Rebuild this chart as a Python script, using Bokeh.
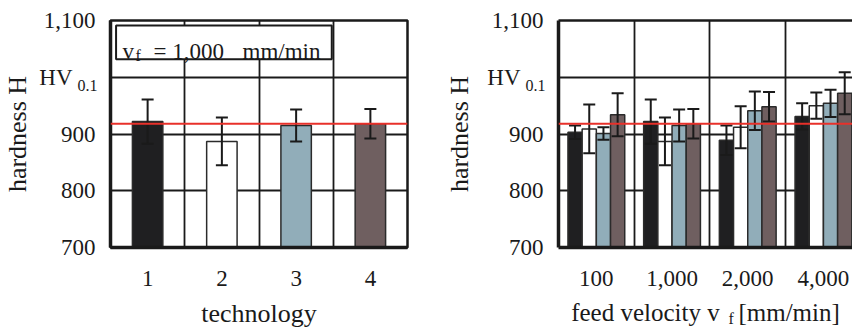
from bokeh.plotting import figure
from bokeh.models import (Range1d, FixedTicker, ColumnDataSource, Whisker, TeeHead,
                          Span, BoxAnnotation, Label, LinearAxis)
from bokeh.layouts import row
from bokeh.embed import file_html
from bokeh.resources import INLINE

# ---------------- data ----------------
technologies = ["1", "2", "3", "4"]
hardness_tech = [922, 887, 915, 918]
err_tech = [39, 42, 28, 26]

feed_velocities = ["100", "1,000", "2,000", "4,000"]
hardness_t1 = [903, 922, 889, 931]
err_t1 = [12, 39, 26, 23]
hardness_t2 = [909, 887, 912, 950]
err_t2 = [43, 42, 37, 23]
hardness_t3 = [901, 915, 941, 954]
err_t3 = [11, 28, 34, 24]
hardness_t4 = [934, 918, 948, 972]
err_t4 = [38, 26, 26, 37]

reference_hardness = 918
y_ticks = [700, 800, 900, 1000, 1100]
y_tick_labels = ["700", "800", "900", "HV\u00a0\u00a0\u00a0\u00a0", "1,100"]
unit_subscript = "0.1"

# ---------------- style ----------------
FONT = "Liberation Serif"
TXT = "#1a1a1a"
colors = ["#1f1f21", "#ffffff", "#91adb9", "#6f5f60"]
BAR_LINE = "#2b2b2b"
RED = "#e8302a"
SUB_SHIFT = 15  # vertical shift (in hardness units) of the subscript label


def plain_axis(ax):
    ax.major_tick_line_color = None
    ax.minor_tick_line_color = None
    ax.major_tick_out = 0
    ax.major_tick_in = 0
    ax.minor_tick_out = 0
    ax.minor_tick_in = 0
    ax.major_label_text_font = FONT
    ax.major_label_text_color = TXT
    ax.axis_label_text_font = FONT
    ax.axis_label_text_color = TXT
    ax.axis_label_text_font_style = "normal"


def base_fig(width, x_end, min_left, min_right, ylabel_standoff):
    p = figure(width=width, height=331, x_range=Range1d(0, x_end), y_range=Range1d(700, 1100),
               output_backend="svg", toolbar_location=None, title=None,
               min_border_left=min_left, min_border_right=min_right,
               min_border_top=20, min_border_bottom=84)
    p.background_fill_color = "white"
    p.border_fill_color = "white"
    p.xgrid.ticker = FixedTicker(ticks=[1, 2, 3])
    p.ygrid.ticker = FixedTicker(ticks=[800, 900, 1000])
    for g in (p.xgrid, p.ygrid):
        g.grid_line_color = "#1a1a1a"
        g.grid_line_width = 1.8

    # main y axis (outer): numbers + "HV" + axis label
    ya = p.left[0]
    plain_axis(ya)
    ya.ticker = FixedTicker(ticks=y_ticks)
    ya.major_label_overrides = {t: l for t, l in zip(y_ticks, y_tick_labels)}
    ya.major_label_text_font_size = "23px"
    ya.major_label_standoff = -21
    ya.axis_line_color = None
    ya.axis_label = "hardness H"
    ya.axis_label_text_font_size = "26px"
    ya.axis_label_standoff = ylabel_standoff

    # inner y axis: subscript "0.1" and the thick left border line
    sub = LinearAxis(ticker=FixedTicker(ticks=[1000 - SUB_SHIFT]),
                     major_label_overrides={1000 - SUB_SHIFT: unit_subscript})
    plain_axis(sub)
    sub.major_label_text_font_size = "16px"
    sub.major_label_standoff = 13
    sub.axis_line_width = 3.5
    sub.axis_line_color = "#1a1a1a"
    p.left = [sub] + list(p.left)

    xa = p.below[0]
    plain_axis(xa)
    xa.axis_line_width = 3.5
    xa.axis_line_color = "#1a1a1a"
    xa.major_label_text_font_size = "23px"
    xa.major_label_standoff = 23
    xa.axis_label_standoff = 10
    return p


def add_whiskers(p, xs, vals, errs):
    src = ColumnDataSource(dict(x=xs, upper=[v + e for v, e in zip(vals, errs)],
                                lower=[v - e for v, e in zip(vals, errs)]))
    w = Whisker(source=src, base="x", upper="upper", lower="lower", dimension="height",
                line_color="#1a1a1a", line_width=2, level="annotation",
                upper_head=TeeHead(size=12, line_width=2, line_color="#1a1a1a"),
                lower_head=TeeHead(size=12, line_width=2, line_color="#1a1a1a"))
    p.add_layout(w)


# ---------------- left chart ----------------
p1 = base_fig(420, 4, 105, 13, 4)
p1.outline_line_color = "#1a1a1a"
p1.outline_line_width = 2.5
x1 = [i + 0.5 for i in range(len(technologies))]
xa1 = p1.below[0]
xa1.ticker = FixedTicker(ticks=x1)
xa1.major_label_overrides = {x: t for x, t in zip(x1, technologies)}
xa1.axis_label = "technology"
xa1.axis_label_text_font_size = "26px"
p1.vbar(x=x1, top=hardness_tech, bottom=700, width=0.41, fill_color=colors,
        line_color=BAR_LINE, line_width=1.5)
add_whiskers(p1, x1, hardness_tech, err_tech)
p1.add_layout(Span(location=reference_hardness, dimension="width", line_color=RED,
                   line_width=2, level="annotation"))
p1.add_layout(BoxAnnotation(left=0.075, right=2.98, top=1091, bottom=1031.5,
                            fill_color="white", fill_alpha=1.0,
                            line_color="#1a1a1a", line_alpha=1.0, line_width=2,
                            level="annotation"))
p1.add_layout(Label(x=0, y=1100, x_offset=12, y_offset=-31, text="v",
                    text_font=FONT, text_font_size="23px", text_color=TXT,
                    text_baseline="alphabetic"))
p1.add_layout(Label(x=0, y=1100, x_offset=25, y_offset=-35, text="f",
                    text_font=FONT, text_font_size="16px", text_color=TXT,
                    text_baseline="alphabetic"))
p1.add_layout(Label(x=0, y=1100, x_offset=43, y_offset=-31, text="= 1,000",
                    text_font=FONT, text_font_size="23px", text_color=TXT,
                    text_baseline="alphabetic"))
p1.add_layout(Label(x=0, y=1100, x_offset=132, y_offset=-31, text="mm/min",
                    text_font=FONT, text_font_size="23px", text_color=TXT,
                    text_baseline="alphabetic"))

# ---------------- right chart ----------------
p2 = base_fig(432, 3.884, 138, 0, 10)
p2.outline_line_color = None
x2 = [i + 0.5 for i in range(len(feed_velocities))]
xa2 = p2.below[0]
xa2.ticker = FixedTicker(ticks=x2)
xa2.major_label_overrides = {x: t for x, t in zip(x2, feed_velocities)}
xa2.axis_label = "feed velocity v\u00a0\u00a0\u00a0[mm/min]"
xa2.axis_label_text_font_size = "25px"
# subscript "f" of the x-axis label
F_POS = 2.28
fax = LinearAxis(ticker=FixedTicker(ticks=[F_POS]), major_label_overrides={F_POS: "f"})
plain_axis(fax)
fax.axis_line_color = None
fax.major_label_text_font_size = "16px"
fax.major_label_standoff = -19
p2.add_layout(fax, "below")
# top border line (the right border is outside the visible area)
top_axis = LinearAxis(ticker=FixedTicker(ticks=[]), axis_line_width=2.7,
                      axis_line_color="#1a1a1a", major_tick_line_color=None,
                      minor_tick_line_color=None, major_tick_out=0, major_tick_in=0,
                      major_label_standoff=0)
p2.add_layout(top_axis, "above")

bw = 0.1875
series = [(hardness_t1, err_t1), (hardness_t2, err_t2), (hardness_t3, err_t3), (hardness_t4, err_t4)]
for j, (vals, errs) in enumerate(series):
    xs = [x + (j - 1.5) * bw for x in x2]
    p2.vbar(x=xs, top=vals, bottom=700, width=bw, fill_color=colors[j],
            line_color=BAR_LINE, line_width=1.5)
for j, (vals, errs) in enumerate(series):
    xs = [x + (j - 1.5) * bw for x in x2]
    add_whiskers(p2, xs, vals, errs)
p2.add_layout(Span(location=reference_hardness, dimension="width", line_color=RED,
                   line_width=2, level="annotation"))

layout = row(p1, p2)
open("out.html", "w").write(file_html(layout, INLINE))
